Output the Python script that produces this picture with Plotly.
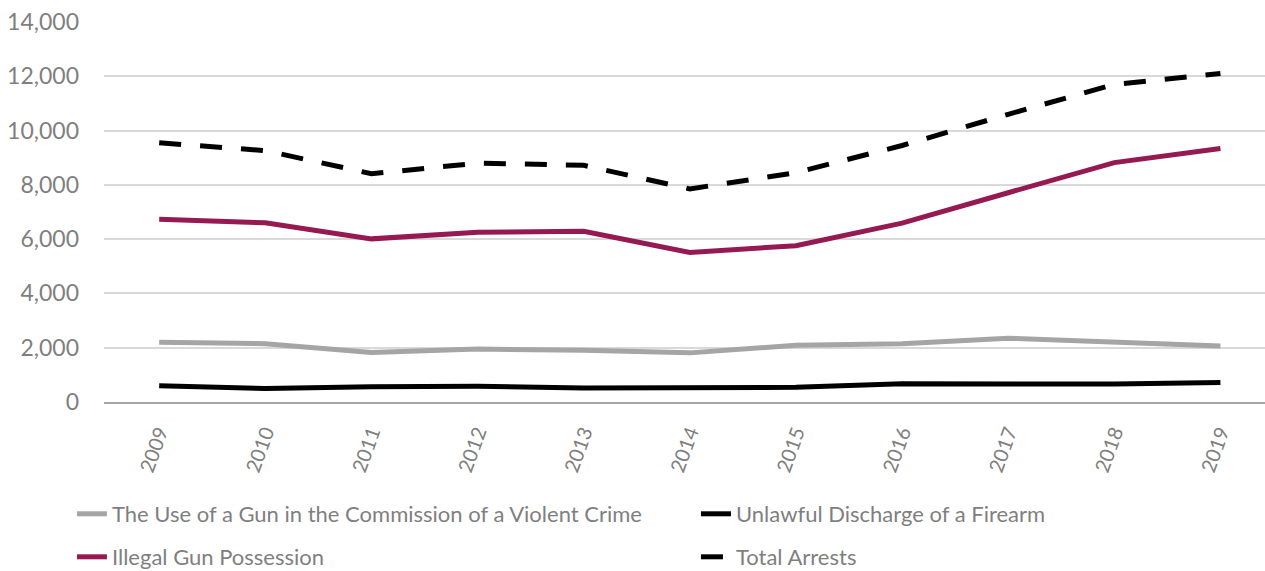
import plotly.graph_objects as go

years = ["2009", "2010", "2011", "2012", "2013", "2014", "2015", "2016", "2017", "2018", "2019"]
gun_use_violent = [2200, 2150, 1820, 1950, 1910, 1810, 2090, 2150, 2350, 2220, 2060]
unlawful_discharge = [600, 500, 560, 580, 520, 540, 540, 670, 660, 660, 720]
illegal_possession = [6730, 6600, 6010, 6250, 6290, 5510, 5760, 6590, 7710, 8820, 9340]
total_arrests = [9550, 9260, 8410, 8800, 8720, 7850, 8450, 9450, 10600, 11700, 12100]

y_ticks = [0, 2000, 4000, 6000, 8000, 10000, 12000, 14000]

FONT = "Lato"
GREY_TXT = "#7f7f7f"

fig = go.Figure()
fig.add_trace(go.Scatter(x=years, y=gun_use_violent, mode="lines",
                         name="The Use of a Gun in the Commission of a Violent Crime",
                         line=dict(color="#a5a5a5", width=5), legend="legend"))
fig.add_trace(go.Scatter(x=years, y=unlawful_discharge, mode="lines",
                         name="Unlawful Discharge of a Firearm",
                         line=dict(color="#000000", width=5), legend="legend"))
fig.add_trace(go.Scatter(x=years, y=illegal_possession, mode="lines",
                         name="Illegal Gun Possession",
                         line=dict(color="#961a52", width=5), legend="legend2"))
fig.add_trace(go.Scatter(x=years, y=total_arrests, mode="lines",
                         name="Total Arrests",
                         line=dict(color="#000000", width=5, dash="22px,19px"), legend="legend2"))

legend_common = dict(orientation="h", xanchor="left", yanchor="middle",
                     font=dict(family=FONT, size=22, color=GREY_TXT),
                     entrywidth=579, bgcolor="rgba(0,0,0,0)")

fig.update_layout(
    width=1265, height=571, autosize=False,
    margin=dict(l=104, r=0, t=22, b=169, autoexpand=False),
    plot_bgcolor="white", paper_bgcolor="white",
    font=dict(family=FONT, color=GREY_TXT),
    legend=dict(x=-0.0276, y=(402 - 514) / 380, **legend_common),
    legend2=dict(x=-0.0276, y=(402 - 557) / 380, **legend_common),
    xaxis=dict(type="category", range=[-0.52, 10.42], showgrid=False,
               showline=True, linecolor="#a6a6a6", linewidth=2,
               tickangle=-70, ticks="", ticklabelstandoff=9, automargin=False,
               tickfont=dict(family=FONT, size=20, color=GREY_TXT)),
    yaxis=dict(range=[0, 14000], tickvals=y_ticks, tickformat=",d",
               showgrid=True, gridcolor="#d9d9d9", gridwidth=1.5,
               zeroline=False, showline=False, ticks="", automargin=False,
               ticklabelstandoff=24,
               tickfont=dict(family=FONT, size=23, color=GREY_TXT)),
)

fig.write_html("out.html")
